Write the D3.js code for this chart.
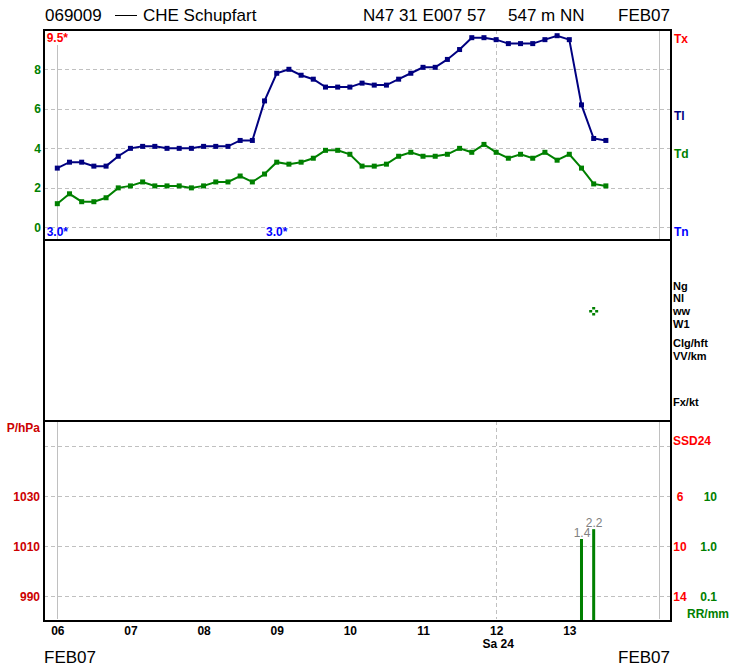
<!DOCTYPE html>
<html lang="en">
<head>
<meta charset="UTF-8">
<title>069009 CHE Schupfart FEB07</title>
<style>
  body { margin: 0; background: #fff; }
  svg { display: block; }
  .lbl { font-family: "Liberation Sans", Arial, sans-serif; font-weight: bold; font-size: 12px; }
  .big { font-family: "Liberation Sans", Arial, sans-serif; font-size: 17px; fill: #000; }
  .grid { stroke: #c0c0c0; stroke-width: 1; stroke-dasharray: 4,3; }
  .vsolid { stroke: #c0c0c0; stroke-width: 1; }
</style>
<script src="https://d3js.org/d3.v7.min.js"></script>
</head>
<body>
<div id="chart"></div>
<script>
// ---- data ----
var dayLabels = ["06", "07", "08", "09", "10", "11", "12", "13"];
// air temperature (Tl), every 4 hours from 06 00 UTC
var tlValues = [3.0, 3.3, 3.3, 3.1, 3.1, 3.6, 4.0, 4.1, 4.1, 4.0, 4.0, 4.0,
  4.1, 4.1, 4.1, 4.4, 4.4, 6.4, 7.8, 8.0, 7.7, 7.5, 7.1, 7.1,
  7.1, 7.3, 7.2, 7.2, 7.5, 7.8, 8.1, 8.1, 8.5, 9.0, 9.6, 9.6,
  9.5, 9.3, 9.3, 9.3, 9.5, 9.7, 9.5, 6.2, 4.5, 4.4];
// dew point (Td)
var tdValues = [1.2, 1.7, 1.3, 1.3, 1.5, 2.0, 2.1, 2.3, 2.1, 2.1, 2.1, 2.0,
  2.1, 2.3, 2.3, 2.6, 2.3, 2.7, 3.3, 3.2, 3.3, 3.5, 3.9, 3.9,
  3.7, 3.1, 3.1, 3.2, 3.6, 3.8, 3.6, 3.6, 3.7, 4.0, 3.8, 4.2,
  3.8, 3.5, 3.7, 3.5, 3.8, 3.4, 3.7, 3.0, 2.2, 2.1];
var obsHours = d3.range(0, tlValues.length * 4, 4);
var tempTicks = [0, 2, 4, 6, 8];
var pressureTicks = [990, 1010, 1030, 1050];
var ssdTicks = [6, 10, 14];
var rrTicks = [10, 1.0, 0.1];
var rrHours = [172, 176];
var rrValues = [1.4, 2.2];
var wwHours = [176];
var tempNotes = [{ hour: -3.5, text: "9.5*", color: "#ff0000", row: "top" },
                 { hour: -3.5, text: "3.0*", color: "#0000ff", row: "bottom" },
                 { hour: 68.5, text: "3.0*", color: "#0000ff", row: "bottom" }];
var middleLabels = [["Ng", 286], ["Nl", 298], ["ww", 311], ["W1", 324],
  ["Clg/hft", 343], ["VV/km", 356], ["Fx/kt", 402]];

// ---- layout ----
var W = 729, H = 667;
var left = 44, right = 671;
var topY = 30, mid1 = 240, mid2 = 421, botY = 621;

var svg = d3.select("#chart").append("svg")
  .attr("width", W).attr("height", H);

var x = d3.scaleLinear().domain([0, 168]).range([57.3, 569.3]);
var yT = d3.scaleLinear().domain([0, 8]).range([227.4, 69.3]);
var yP = d3.scaleLinear().domain([990, 1030]).range([596.3, 496.3]);
var ySsd = d3.scaleLinear().domain([6, 14]).range([496.3, 596.3]);
var yRR = d3.scaleLog().domain([0.1, 10]).range([596.3, 496.3]);

var navy = "#000080", green = "#008000", darkRed = "#cc0000";

// ---- gridlines ----
var grid = svg.append("g");
grid.selectAll(".gt").data(tempTicks).enter().append("line")
  .attr("class", "grid")
  .attr("x1", left).attr("x2", right)
  .attr("y1", function(d) { return Math.round(yT(d)) + 0.5; })
  .attr("y2", function(d) { return Math.round(yT(d)) + 0.5; });
grid.selectAll(".gp").data(pressureTicks).enter().append("line")
  .attr("class", "grid")
  .attr("x1", left).attr("x2", right)
  .attr("y1", function(d) { return Math.round(yP(d)) + 0.5; })
  .attr("y2", function(d) { return Math.round(yP(d)) + 0.5; });

// vertical lines: start (solid), end of window (solid), 12th (dashed)
[[topY, mid1, 45], [mid2, botY - 2, mid2]].forEach(function(p) {
  grid.append("line").attr("class", "vsolid")
    .attr("x1", Math.round(x(0)) + 0.5).attr("x2", Math.round(x(0)) + 0.5)
    .attr("y1", p[2]).attr("y2", p[1]);
  grid.append("line").attr("class", "vsolid")
    .attr("x1", Math.round(x(197.5)) + 0.5).attr("x2", Math.round(x(197.5)) + 0.5)
    .attr("y1", p[0]).attr("y2", p[1]);
  grid.append("line").attr("class", "grid")
    .attr("x1", Math.round(x(144)) + 0.5).attr("x2", Math.round(x(144)) + 0.5)
    .attr("y1", p[0]).attr("y2", p[1]);
});

// ---- temperature series ----
function drawSeries(values, color) {
  var pts = values.map(function(v, i) { return [x(obsHours[i]), yT(v)]; });
  var g = svg.append("g");
  g.append("path")
    .attr("d", d3.line()(pts))
    .attr("fill", "none").attr("stroke", color).attr("stroke-width", 2);
  g.selectAll("rect").data(pts).enter().append("rect")
    .attr("x", function(d) { return d[0] - 2.5; })
    .attr("y", function(d) { return d[1] - 2.5; })
    .attr("width", 5).attr("height", 5)
    .attr("fill", color);
}
drawSeries(tdValues, green);
drawSeries(tlValues, navy);

// notes (Tx / Tn)
svg.selectAll(".note").data(tempNotes).enter().append("text")
  .attr("class", "lbl")
  .attr("x", function(d) { return x(d.hour); })
  .attr("y", function(d) { return d.row === "top" ? 42 : 236; })
  .attr("fill", function(d) { return d.color; })
  .text(function(d) { return d.text; });

// ---- temperature axis (left) ----
var axT = svg.append("g").attr("transform", "translate(" + 41 + ",0)")
  .call(d3.axisLeft(yT).tickValues(tempTicks).tickSize(0).tickPadding(0)
    .tickFormat(d3.format("d")));
axT.select(".domain").remove();
axT.attr("font-size", null).attr("font-family", null);
axT.selectAll("text").attr("class", "lbl").attr("fill", green);

// right labels top panel
[["Tx", 39, "#ff0000"], ["Tl", 116, navy], ["Td", 154, green], ["Tn", 232, "#0000ff"]]
  .forEach(function(d) {
    svg.append("text").attr("class", "lbl").attr("x", 674).attr("y", d[1] + 4)
      .attr("fill", d[2]).text(d[0]);
  });

// middle panel labels
svg.selectAll(".ml").data(middleLabels).enter().append("text")
  .attr("class", "lbl").attr("x", 673)
  .attr("y", function(d) { return d[1] + 4; })
  .attr("fill", "#000").style("font-size", "11px")
  .text(function(d) { return d[0]; });

// weather symbol (rain, four dots)
var ww = svg.append("g");
wwHours.forEach(function(h) {
  var cx = x(h), cy = 311;
  [[0, -3], [-3, 0], [3, 0], [0, 3]].forEach(function(o) {
    ww.append("rect").attr("x", cx + o[0] - 1.5).attr("y", cy + o[1] - 1)
      .attr("width", 3).attr("height", 2.5).attr("fill", green);
  });
});

// ---- pressure axis (left) ----
var axP = svg.append("g").attr("transform", "translate(" + 40 + ",0)")
  .call(d3.axisLeft(yP).tickValues(pressureTicks.slice(0, 3)).tickSize(0).tickPadding(0)
    .tickFormat(d3.format("d")));
axP.select(".domain").remove();
axP.attr("font-size", null).attr("font-family", null);
axP.selectAll("text").attr("class", "lbl").attr("fill", darkRed);
svg.append("text").attr("class", "lbl").attr("x", 40).attr("y", 432)
  .attr("text-anchor", "end").attr("fill", darkRed).text("P/hPa");

// SSD24 (red) and RR (green) labels on the right
svg.append("text").attr("class", "lbl").attr("x", 673).attr("y", 445)
  .attr("fill", "#ff0000").text("SSD24");
var axS = svg.append("g").attr("transform", "translate(680,0)")
  .call(d3.axisRight(ySsd).tickValues(ssdTicks).tickSize(0).tickPadding(0)
    .tickFormat(d3.format("d")));
axS.select(".domain").remove();
axS.attr("font-size", null).attr("font-family", null);
axS.selectAll("text").attr("class", "lbl").attr("fill", "#ff0000")
  .attr("text-anchor", "middle");
var axR = svg.append("g").attr("transform", "translate(717,0)")
  .call(d3.axisLeft(yRR).tickValues(rrTicks).tickSize(0).tickPadding(0)
    .tickFormat(function(d) { return d >= 10 ? "10" : d3.format(".1f")(d); }));
axR.select(".domain").remove();
axR.attr("font-size", null).attr("font-family", null);
axR.selectAll("text").attr("class", "lbl").attr("fill", green);
svg.append("text").attr("class", "lbl").attr("x", 687).attr("y", 618)
  .attr("fill", green).text("RR/mm");

// rain bars
var bars = svg.append("g");
rrValues.forEach(function(v, i) {
  var bx = x(rrHours[i]);
  bars.append("rect")
    .attr("x", bx - 1.5).attr("y", yRR(v))
    .attr("width", 3).attr("height", botY - yRR(v))
    .attr("fill", green);
  bars.append("text")
    .attr("x", bx + 0.5).attr("y", yRR(v) - 2)
    .attr("text-anchor", "middle")
    .attr("fill", "#808080")
    .style("font-family", "'Liberation Sans', Arial, sans-serif")
    .style("font-size", "12px")
    .text(d3.format(".1f")(v));
});

// ---- frame ----
var frame = svg.append("g").attr("fill", "none").attr("stroke", "#000").attr("stroke-width", 2);
frame.append("rect").attr("x", left).attr("y", topY)
  .attr("width", right - left).attr("height", botY - topY);
frame.append("line").attr("x1", left).attr("x2", right).attr("y1", mid1).attr("y2", mid1);
frame.append("line").attr("x1", left).attr("x2", right).attr("y1", mid2).attr("y2", mid2);

// ---- time axis ----
var axX = svg.append("g").attr("transform", "translate(0," + 635 + ")")
  .call(d3.axisBottom(x).tickValues(d3.range(0, 169, 24)).tickSize(0).tickPadding(0)
    .tickFormat(function(d, i) { return dayLabels[i]; }));
axX.select(".domain").remove();
axX.attr("font-size", null).attr("font-family", null);
axX.selectAll("text").attr("class", "lbl").attr("fill", "#000").attr("dy", 0);
svg.append("text").attr("class", "lbl").attr("x", x(144) + 2).attr("y", 648)
  .attr("text-anchor", "middle").attr("fill", "#000").text("Sa 24");

// ---- header / footer text ----
svg.append("text").attr("class", "big").attr("x", 45).attr("y", 21).text("069009");
svg.append("line").attr("x1", 115).attr("x2", 137).attr("y1", 15.5).attr("y2", 15.5)
  .attr("stroke", "#000").attr("stroke-width", 1);
svg.append("text").attr("class", "big").attr("x", 143).attr("y", 21).text("CHE Schupfart");
svg.append("text").attr("class", "big").attr("x", 363).attr("y", 21).text("N47 31 E007 57");
svg.append("text").attr("class", "big").attr("x", 508).attr("y", 21).text("547 m NN");
svg.append("text").attr("class", "big").attr("x", 670).attr("y", 21)
  .attr("text-anchor", "end").text("FEB07");
svg.append("text").attr("class", "big").attr("x", 44).attr("y", 663).text("FEB07");
svg.append("text").attr("class", "big").attr("x", 670).attr("y", 663)
  .attr("text-anchor", "end").text("FEB07");
</script>
</body>
</html>
